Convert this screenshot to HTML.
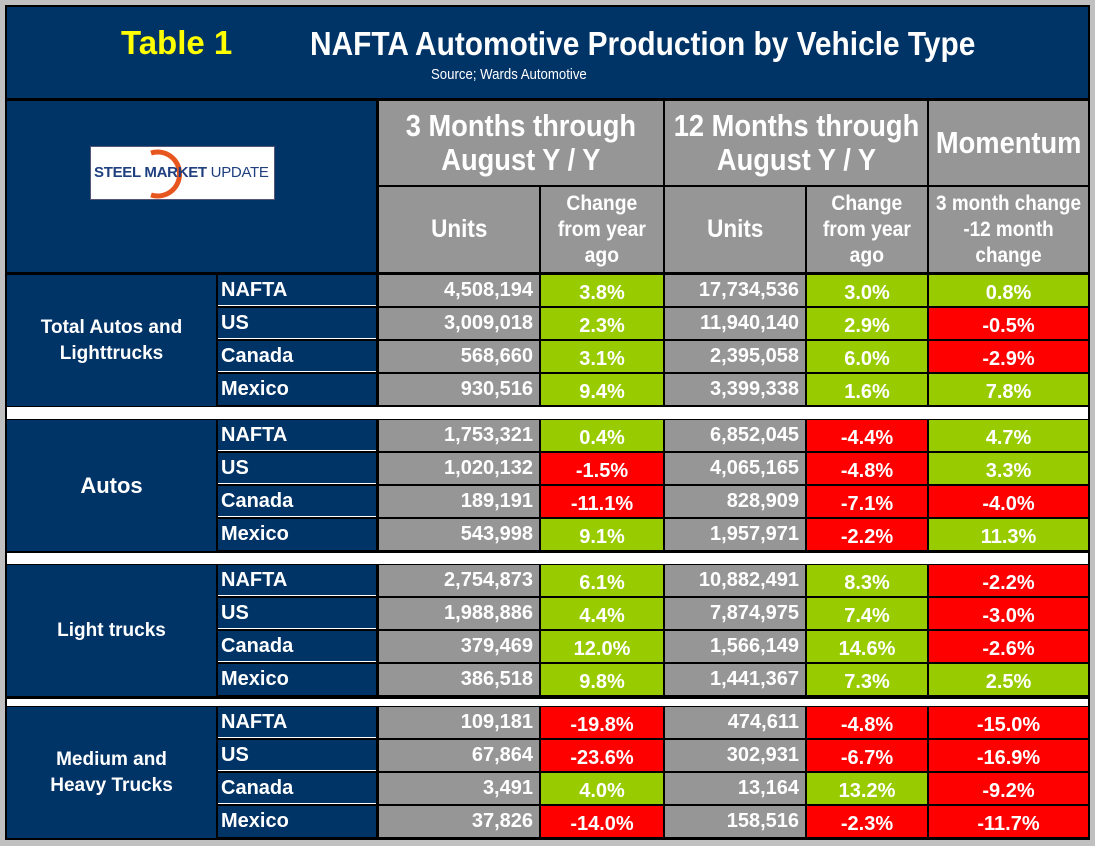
<!DOCTYPE html>
<html><head><meta charset="utf-8">
<style>
body{margin:0;background:#c0c0c0;width:1095px;height:846px;overflow:hidden;font-family:"Liberation Sans",Arial,sans-serif;}
#frame{position:absolute;left:5px;top:5px;width:1085px;height:835px;background:#000;}
.c{position:absolute;box-sizing:border-box;color:#fff;font-weight:bold;display:flex;align-items:center;overflow:hidden;white-space:nowrap;}
.n{display:inline-block;transform:scaleX(0.9);}
</style></head><body>
<div id="frame"></div>
<div id="root"></div>
<script>
const groups=["Total Autos and<br>Lighttrucks","Autos","Light trucks","Medium and<br>Heavy Trucks"];
const regions=["NAFTA","US","Canada","Mexico"];
const units3=[["4,508,194","3,009,018","568,660","930,516"],["1,753,321","1,020,132","189,191","543,998"],["2,754,873","1,988,886","379,469","386,518"],["109,181","67,864","3,491","37,826"]];
const chg3=[[3.8,2.3,3.1,9.4],[0.4,-1.5,-11.1,9.1],[6.1,4.4,12.0,9.8],[-19.8,-23.6,4.0,-14.0]];
const units12=[["17,734,536","11,940,140","2,395,058","3,399,338"],["6,852,045","4,065,165","828,909","1,957,971"],["10,882,491","7,874,975","1,566,149","1,441,367"],["474,611","302,931","13,164","158,516"]];
const chg12=[[3.0,2.9,6.0,1.6],[-4.4,-4.8,-7.1,-2.2],[8.3,7.4,14.6,7.3],[-4.8,-6.7,13.2,-2.3]];
const mom=[[0.8,-0.5,-2.9,7.8],[4.7,3.3,-4.0,11.3],[-2.2,-3.0,-2.6,2.5],[-15.0,-16.9,-9.2,-11.7]];

const root=document.getElementById('root');
const NAVY='#003366',GRAY='#969696',GREEN='#99cc00',RED='#ff0000';
function cell(x,y,w,h,bg,html,align,fs,name){
  const d=document.createElement('div');
  d.className='c';
  d.style.cssText=`left:${x}px;top:${y}px;width:${w}px;height:${h}px;background:${bg};font-size:${fs}px;justify-content:${align};`;
  d.innerHTML=html;
  
  
  root.appendChild(d);
  return d;
}
const t=cell(7,7,1081,91,NAVY,'','flex-start',28,'title-banner');
t.innerHTML='<span style="position:absolute;left:114px;top:17px;color:#ffff00;font-size:33px">Table 1</span><span style="position:absolute;left:303px;top:18px;font-size:33px"><span class="n" style="transform-origin:left;transform:scaleX(0.905)">NAFTA Automotive Production by Vehicle Type</span></span><span style="position:absolute;left:424px;top:59px;font-size:15px;font-weight:normal"><span class="n" style="transform-origin:left;transform:scaleX(0.88)">Source; Wards Automotive</span></span>';
const lg=cell(7,101,369,171,NAVY,'','center',14,'logo-panel');
lg.innerHTML='<div style="position:absolute;left:83px;top:45px;width:185px;height:54px;background:#fff;border:1px solid #557;box-sizing:border-box"><svg width="185" height="54" style="position:absolute;left:0;top:0"><path d="M60 6 A22 22 0 1 1 60 48" fill="none" stroke="#e8561f" stroke-width="5"/></svg><span style="position:absolute;left:3px;top:17px;font-size:15px;color:#1f3f7f;font-weight:bold;letter-spacing:-0.3px">STEEL MARKET <span style="font-weight:normal">UPDATE</span></span></div>';
cell(379,101,284,84,GRAY,'<span class="n" style="text-align:center;line-height:34px;font-size:31px;transform:scaleX(0.88)">3 Months through<br>August Y / Y</span>','center',31,'header-3-months');
cell(665,101,262,84,GRAY,'<span class="n" style="text-align:center;line-height:34px;font-size:31px;transform:scaleX(0.88)">12 Months through<br>August Y / Y</span>','center',31,'header-12-months');
cell(929,101,159,84,GRAY,'<span class="n" style="transform:scaleX(0.88)">Momentum</span>','center',31,'header-momentum');
cell(379,187,160,85,GRAY,'<span class="n">Units</span>','center',25,'header-units-3m');
cell(541,187,122,85,GRAY,'<span class="n" style="text-align:center;line-height:26px;transform:scaleX(0.92)">Change<br>from year<br>ago</span>','center',21,'header-change-3m');
cell(665,187,140,85,GRAY,'<span class="n">Units</span>','center',25,'header-units-12m');
cell(807,187,120,85,GRAY,'<span class="n" style="text-align:center;line-height:26px;transform:scaleX(0.92)">Change<br>from year<br>ago</span>','center',21,'header-change-12m');
cell(929,187,159,85,GRAY,'<span class="n" style="text-align:center;line-height:26px;transform:scaleX(0.9)">3 month change<br>-12 month<br>change</span>','center',21,'header-momentum-sub');
const gTop=[275,420,565,707];
const RH=33;
[[406,420],[552,565],[698,707]].forEach(([a,b],i)=>{
  const g=document.createElement('div');
  g.style.cssText=`position:absolute;left:7px;top:${a+1}px;width:1081px;height:${b-a-2}px;background:#fff`;
  
  
  root.appendChild(g);
});
function pct(v){return v.toFixed(1)+'%';}
groups.forEach((gname,gi)=>{
  const y0=gTop[gi];
  cell(7,y0,209,RH*4-1,NAVY,'<span style="text-align:center;line-height:26px">'+gname+'</span>','center',gi==1?22:19,'group-label');
  regions.forEach((r,ri)=>{
    const y=y0+ri*RH;
    const h=RH-2;
    const rc=cell(218,y,158,h,NAVY,'<span style="padding-left:3px">'+r+'</span>','flex-start',20,'region-label');
    rc.style.borderBottom=ri<3?'1px solid #fff':'none';
    cell(379,y,160,h,GRAY,'<span style="padding-right:6px">'+units3[gi][ri]+'</span>','flex-end',20,'units-3m');
    let v=chg3[gi][ri];
    cell(541,y,122,h,v>=0?GREEN:RED,'<span style="padding-top:5px">'+pct(v)+'</span>','center',20,'change-3m');
    cell(665,y,140,h,GRAY,'<span style="padding-right:6px">'+units12[gi][ri]+'</span>','flex-end',20,'units-12m');
    v=chg12[gi][ri];
    cell(807,y,120,h,v>=0?GREEN:RED,'<span style="padding-top:5px">'+pct(v)+'</span>','center',20,'change-12m');
    v=mom[gi][ri];
    cell(929,y,159,h,v>=0?GREEN:RED,'<span style="padding-top:5px">'+pct(v)+'</span>','center',20,'momentum');
  });
});
</script>
</body></html>
